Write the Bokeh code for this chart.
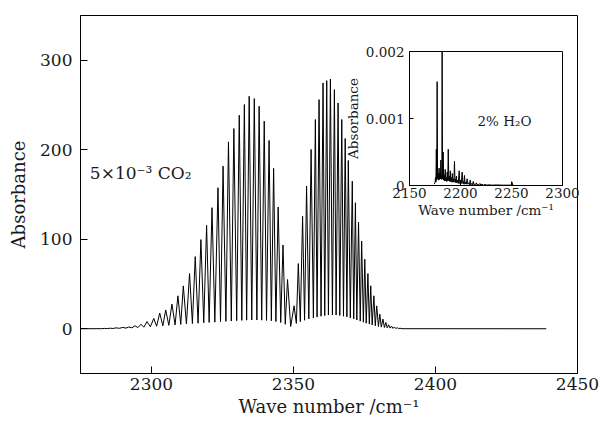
import numpy as np
from bokeh.plotting import figure
from bokeh.models import Range1d, FixedTicker, Label
from bokeh.layouts import column
from bokeh.embed import file_html
from bokeh.resources import INLINE

# ---------------- data ----------------
co2_peak_wn = [2283.5, 2285.5, 2287.5, 2289.9, 2292.0, 2294.2, 2296.3, 2298.4, 2300.8, 2302.9,
               2305.0, 2307.2, 2309.3, 2311.2, 2313.4, 2315.4, 2317.4, 2319.4, 2321.3, 2323.4,
               2325.2, 2327.1, 2329.0, 2330.9, 2332.7, 2334.4, 2336.2, 2337.9, 2339.7, 2341.4,
               2343.0, 2344.6, 2346.3, 2347.9,
               2350.2, 2351.7, 2353.2, 2354.6, 2356.2, 2357.7, 2359.0, 2360.4, 2361.7, 2363.0,
               2364.4, 2365.7, 2367.0, 2368.2, 2369.3, 2370.7, 2371.8, 2372.9, 2374.0, 2375.1,
               2376.2, 2377.2, 2378.3, 2379.3, 2380.4, 2381.5, 2382.5, 2383.5, 2384.5, 2385.5,
               2386.5, 2387.5]
co2_peak_abs = [0.4, 0.6, 1.0, 1.5, 2.0, 3.3, 5.0, 8.0, 11.5, 17.5,
                21.0, 27.5, 36.8, 47.9, 61.7, 80.6, 99.6, 115.6, 135.3, 157.6,
                181.7, 208.8, 223.7, 238.6, 250.5, 259.8, 257.2, 248.6, 231.9, 210.4,
                179.2, 136.0, 93.6, 55.0,
                25.6, 72.8, 125.6, 159.4, 200.3, 233.8, 256.0, 274.6, 277.2, 279.0,
                267.2, 252.3, 233.8, 212.6, 188.0, 165.0, 140.8, 119.3, 98.0, 77.7,
                61.7, 48.0, 36.8, 25.6, 16.3, 10.8, 7.0, 4.5, 3.0, 2.0,
                1.2, 0.6]
co2_valley_wn = [2275.0, 2282.5,
                 2284.5, 2286.5, 2288.7, 2291.0, 2293.1, 2295.2, 2297.3, 2299.6, 2301.8, 2304.0,
                 2306.1, 2308.3, 2310.3, 2312.3, 2314.4, 2316.4, 2318.4, 2320.3, 2322.3, 2324.3,
                 2326.2, 2328.1, 2330.0, 2331.8, 2333.5, 2335.3, 2337.1, 2338.8, 2340.5, 2342.2,
                 2343.8, 2345.5, 2347.1,
                 2349.0,
                 2351.0, 2352.4, 2353.9, 2355.4, 2357.0, 2358.3, 2359.7, 2361.0, 2362.3, 2363.7,
                 2365.0, 2366.3, 2367.6, 2368.8, 2370.0, 2371.2, 2372.3, 2373.5, 2374.6, 2375.6,
                 2376.7, 2377.7, 2378.8, 2379.9, 2380.9, 2382.0, 2383.0, 2384.0, 2385.0, 2386.0,
                 2387.0,
                 2388.2, 2439.0]
co2_valley_abs = [0.0, 0.1,
                  0.2, 0.3, 0.5, 0.7, 1.0, 1.3, 1.7, 2.2, 2.8, 3.3,
                  3.8, 4.3, 4.8, 5.3, 5.8, 6.2, 6.6, 7.0, 7.4, 7.8,
                  8.2, 8.6, 9.0, 9.3, 9.6, 9.8, 9.8, 9.6, 9.3, 8.8,
                  8.0, 7.0, 5.0,
                  2.5,
                  6.0, 8.0, 9.5, 11.0, 12.0, 13.0, 14.0, 14.8, 15.3, 15.5,
                  15.3, 14.8, 14.0, 13.2, 12.2, 11.0, 9.8, 8.5, 7.3, 6.2,
                  5.2, 4.2, 3.3, 2.5, 1.9, 1.4, 1.0, 0.7, 0.4, 0.25,
                  0.15,
                  0.05, 0.0]

h2o_wn = [2174.0, 2175.0, 2175.5, 2175.9, 2176.3, 2176.7, 2177.1, 2177.5, 2178.0, 2178.5,
          2179.0, 2179.5, 2180.0, 2180.3, 2180.7, 2181.1, 2181.5, 2181.7, 2182.0, 2182.4,
          2183.0, 2183.5, 2184.0, 2184.5, 2185.0, 2185.5, 2186.0, 2186.5, 2187.0, 2187.5,
          2188.0, 2188.5, 2189.0, 2189.5, 2190.0, 2190.5, 2191.0, 2191.5, 2192.0, 2192.5,
          2193.0, 2193.5, 2194.1, 2194.6, 2195.0, 2195.5, 2196.0, 2196.5, 2197.0, 2197.8,
          2198.7, 2199.3, 2200.0, 2200.8, 2201.6, 2202.3, 2203.0, 2203.4, 2203.9, 2204.4,
          2205.0, 2205.7, 2206.5, 2207.2, 2208.0, 2208.8, 2209.5, 2210.2, 2211.0, 2211.7,
          2212.5, 2213.2, 2214.0, 2214.7, 2215.5, 2216.2, 2217.0, 2218.0, 2219.0, 2220.0,
          2221.0, 2222.5, 2224.0, 2226.0, 2228.0, 2231.0, 2235.0, 2242.0, 2250.0, 2250.5,
          2251.0, 2252.0]
h2o_abs = [0.00002, 0.00004, 0.00012, 0.00005, 0.00054, 0.00008, 0.00155, 0.00010, 0.00018, 0.00008,
           0.00026, 0.00009, 0.00020, 0.00010, 0.00038, 0.00010, 0.00016, 0.00009, 0.00210, 0.00010,
           0.00050, 0.00008, 0.00016, 0.00007, 0.00024, 0.00007, 0.00012, 0.00006, 0.00020, 0.00007,
           0.00054, 0.00007, 0.00014, 0.00006, 0.00022, 0.00006, 0.00012, 0.00005, 0.00018, 0.00005,
           0.00010, 0.00005, 0.00036, 0.00005, 0.00010, 0.00004, 0.00014, 0.00004, 0.00008, 0.00003,
           0.00022, 0.00003, 0.00008, 0.00003, 0.00020, 0.00003, 0.00006, 0.00002, 0.00015, 0.00002,
           0.00005, 0.00002, 0.00010, 0.00002, 0.00004, 0.00001, 0.00008, 0.00001, 0.00003, 0.00001,
           0.00006, 0.00001, 0.00002, 0.00001, 0.00004, 0.00001, 0.00002, 0.00001, 0.00003, 0.000005,
           0.00002, 0.000005, 0.000015, 0.000005, 0.00001, 0.000005, 0.000008, 0.000005, 0.000005, 0.00005,
           0.000005, 0.000005]

main_xticks = [2300, 2350, 2400, 2450]
main_yticks = [0, 100, 200, 300]
inset_xticks = [2150, 2200, 2250, 2300]
inset_yticks = [0, 0.001, 0.002]
inset_ylabels = {0: "0", 0.001: "0.001", 0.002: "0.002"}

co2_text = "5×10⁻³ CO₂"
h2o_text = "2% H₂O"
x_title = "Wave number /cm⁻¹"
y_title = "Absorbance"

FONT = "DejaVu Serif"

# merge peaks and valleys into one ordered trace
co2_wn = np.array(co2_peak_wn + co2_valley_wn)
co2_ab = np.array(co2_peak_abs + co2_valley_abs)
order = np.argsort(co2_wn)
co2_wn, co2_ab = co2_wn[order], co2_ab[order]


def style_axes(fig, tick_len, label_size, title_size, lab_standoff, title_standoff):
    for ax in (fig.xaxis[0], fig.yaxis[0]):
        ax.major_tick_in = tick_len
        ax.major_tick_out = 0
        ax.minor_tick_line_color = None
        ax.axis_line_color = "black"
        ax.major_tick_line_color = "black"
        ax.major_label_text_font = FONT
        ax.major_label_text_font_size = label_size
        ax.major_label_text_color = "#1a1a1a"
        ax.axis_label_text_font = FONT
        ax.axis_label_text_font_size = title_size
        ax.axis_label_text_font_style = "normal"
        ax.axis_label_text_color = "#1a1a1a"
    fig.xaxis[0].major_label_standoff = lab_standoff[0]
    fig.yaxis[0].major_label_standoff = lab_standoff[1]
    fig.xaxis[0].axis_label_standoff = title_standoff[0]
    fig.yaxis[0].axis_label_standoff = title_standoff[1]
    fig.xgrid.visible = False
    fig.ygrid.visible = False
    fig.outline_line_color = "black"
    fig.outline_line_width = 1


# ---------------- main figure ----------------
ML, MR, MT, MB = 80, 23, 15, 48
p = figure(width=600, height=421, output_backend="svg", toolbar_location=None,
           x_range=Range1d(2275, 2450), y_range=Range1d(-50, 350),
           min_border_left=ML, min_border_right=MR, min_border_top=MT, min_border_bottom=MB,
           x_axis_label=x_title, y_axis_label=y_title)
p.xaxis.ticker = FixedTicker(ticks=main_xticks)
p.yaxis.ticker = FixedTicker(ticks=main_yticks)
style_axes(p, 7, "17px", "18px", (4, 8), (3, 8))
p.background_fill_color = "white"
p.border_fill_color = "white"

p.line(co2_wn, co2_ab, line_color="black", line_width=1)

p.add_layout(Label(x=2278.3, y=174, text=co2_text, text_font=FONT, text_font_size="17px",
                   text_baseline="middle", text_color="#1a1a1a"))

# ---------------- inset figure ----------------
# left/right borders equal to the main figure's (column aligns plot frames)
IL, IR, IT, IB = ML, MR, 10, 40
q = figure(frame_width=153, frame_height=134, width=IL + 153 + IR, height=IT + 134 + IB,
           output_backend="svg", toolbar_location=None,
           x_range=Range1d(2150, 2300), y_range=Range1d(0, 0.002),
           min_border_left=IL, min_border_right=IR, min_border_top=IT, min_border_bottom=IB,
           x_axis_label=x_title, y_axis_label=y_title)
q.xaxis.ticker = FixedTicker(ticks=inset_xticks)
q.yaxis.ticker = FixedTicker(ticks=inset_yticks)
q.yaxis.major_label_overrides = inset_ylabels
style_axes(q, 4, "13.5px", "13.5px", (2, 5), (1, 2))
q.background_fill_color = "white"
q.border_fill_alpha = 0
q.line(h2o_wn, h2o_abs, line_color="black", line_width=1)
q.add_layout(Label(x=2216.7, y=0.00097, text=h2o_text, text_font=FONT, text_font_size="13.5px",
                   text_baseline="middle", text_color="#1a1a1a"))

q.margin = (51 - IT - 421, 0, 0, 409 - IL)
p.margin = (0, 0, 0, 0)

layout = column(p, q)
open("out.html", "w").write(file_html(layout, INLINE))
